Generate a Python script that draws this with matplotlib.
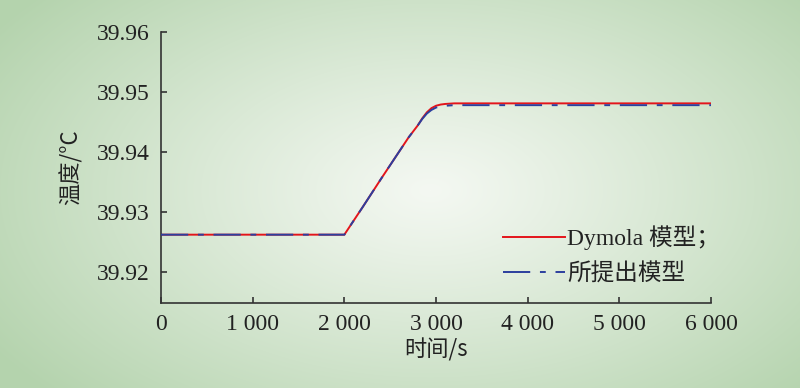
import numpy as np
import matplotlib
matplotlib.use("Agg")
import matplotlib.pyplot as plt
from matplotlib.lines import Line2D

# ---- data ----
time_s = [0, 2000, 2200, 2400, 2600, 2700, 2800, 2850, 2900, 2950, 3000, 3050, 3100, 3200, 6000]
temp_dymola = [39.9262, 39.9262, 39.9308, 39.9355, 39.9401, 39.9424, 39.9444, 39.9456,
               39.9466, 39.9473, 39.9477, 39.9479, 39.9480, 39.9481, 39.9481]
temp_model = [39.9262, 39.9262, 39.9308, 39.9355, 39.9401, 39.9424, 39.9444, 39.9455,
              39.9464, 39.9470, 39.9474, 39.9476, 39.9477, 39.9478, 39.9478]
xticks = [0, 1000, 2000, 3000, 4000, 5000, 6000]
xtick_labels = ["0", "1 000", "2 000", "3 000", "4 000", "5 000", "6 000"]
yticks = [39.92, 39.93, 39.94, 39.95, 39.96]

SERIF = ["Liberation Serif", "Noto Sans CJK SC"]
CJK = ["Noto Sans CJK SC", "Liberation Serif"]

fig = plt.figure(figsize=(8, 3.88), dpi=100)

# radial green background
bg = fig.add_axes([0, 0, 1, 1], zorder=-1)
h, w = 388, 800
yy, xx = np.mgrid[0:h, 0:w]
r = np.sqrt(((xx - 430) / 520.0) ** 2 + ((yy - 190) / 300.0) ** 2)
r = np.clip(r, 0, 1) ** 1.1
c0 = np.array([0xf4, 0xf8, 0xf2]) / 255.0
c1 = np.array([0xb4, 0xd3, 0xad]) / 255.0
img = c0[None, None, :] * (1 - r[..., None]) + c1[None, None, :] * r[..., None]
bg.imshow(img, aspect="auto", extent=[0, 1, 0, 1])
bg.axis("off")

ax = fig.add_axes([0.20125, 0.219, 0.6875, 0.6985])
ax.patch.set_alpha(0)

ax.plot(time_s, temp_dymola, color="#e3151b", lw=1.4, zorder=2)
ax.plot(time_s, temp_model, color="#2c3f9e", lw=1.4, dashes=(14, 5, 3, 5), zorder=3)

ax.set_xlim(0, 6000)
ax.set_ylim(39.9148, 39.96)
ax.set_xticks(xticks)
ax.set_xticklabels(xtick_labels)
ax.set_yticks(yticks)
ax.set_yticklabels([f"{v:.2f}" for v in yticks])
for lab in ax.get_xticklabels() + ax.get_yticklabels():
    lab.set_family(SERIF)
    lab.set_fontsize(17)
    lab.set_color("#222222")

ax.spines["top"].set_visible(False)
ax.spines["right"].set_visible(False)
for s in ("left", "bottom"):
    ax.spines[s].set_color("#333333")
    ax.spines[s].set_linewidth(1.2)
ax.tick_params(direction="in", length=4, width=1.2, color="#333333", pad=8)

ax.set_xlabel("时间/s", family=CJK, fontsize=16, color="#222222", labelpad=2)
ax.set_ylabel("温度/°C", family=CJK, fontsize=16, color="#222222", labelpad=10)

handles = [Line2D([], [], color="#e3151b", lw=1.4),
           Line2D([], [], color="#2c3f9e", lw=1.4, dashes=(14, 5, 3, 5))]
leg = ax.legend(handles, ["Dymola 模型；", "所提出模型"], loc="upper left",
                bbox_to_anchor=(0.605, 0.32), borderaxespad=0, frameon=False,
                handlelength=2.6, handletextpad=0.1, labelspacing=0.55,
                prop={"family": SERIF, "size": 17})
for t in leg.get_texts():
    t.set_color("#222222")

fig.savefig("out.png", dpi=100)
